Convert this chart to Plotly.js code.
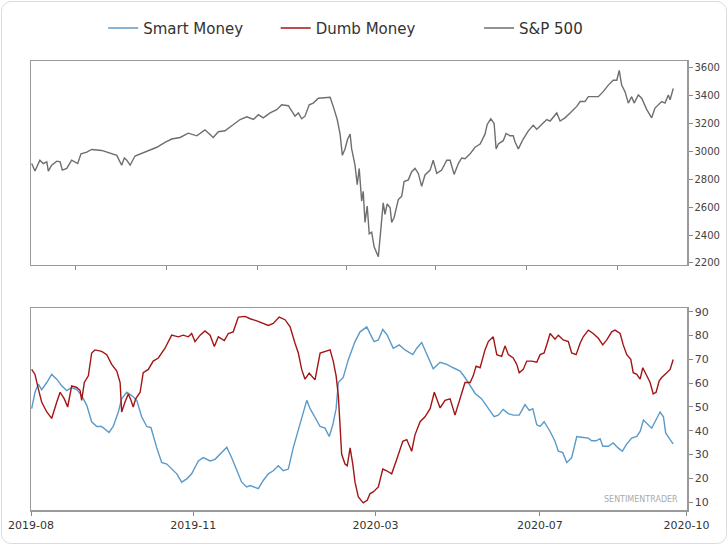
<!DOCTYPE html>
<html>
<head>
<meta charset="utf-8">
<script src="https://cdn.plot.ly/plotly-3.0.1.min.js"></script>
<style>
html,body{margin:0;padding:0;background:#fff;}
#wrap{position:relative;width:728px;height:545px;}
#chart{width:728px;height:545px;}
#card{position:absolute;left:1px;top:1px;width:724px;height:541px;border:1px solid #dcdcdc;border-radius:10px;pointer-events:none;}
</style>
</head>
<body>
<div id="wrap"><div id="chart"></div><div id="card"></div></div>
<script>
// x = trading-day index from 2019-08 (0) to 2020-10 (~295)
const spX = [0.3,1.8,4.0,5.5,7.1,7.8,9.3,11.6,13.1,14.1,16.1,18.3,21.0,22.5,25.1,27.3,31.8,35.6,38.6,40.8,42.0,43.1,44.6,46.8,49.1,52.8,56.6,60.3,63.3,67.1,70.8,74.6,78.3,82.0,84.3,87.3,91.0,94.1,97.1,100.1,102.3,104.5,107.6,110.6,112.8,115.8,118.8,120.3,121.8,123.3,125.2,127.0,129.3,132.3,134.6,136.0,137.8,139.1,140.1,141.3,142.5,143.6,144.3,145.8,146.8,147.7,148.8,149.5,150.3,151.3,152.2,153.3,154.4,156.3,157.8,158.5,159.3,160.3,161.6,162.3,163.4,165.3,166.8,167.9,169.8,171.3,172.8,174.3,175.8,177.3,179.6,181.0,182.6,184.8,187.1,188.6,190.4,192.3,193.8,195.3,197.6,199.8,202.1,204.3,205.3,206.9,208.4,209.3,210.3,212.5,213.8,215.6,217.0,217.8,219.3,221.5,223.8,226.0,227.6,229.8,232.1,233.6,236.6,238.1,240.3,242.6,245.6,247.1,249.3,250.8,253.8,255.3,257.5,259.8,262.0,263.6,264.7,265.8,267.3,268.8,270.3,271.4,273.3,274.8,277.1,278.6,279.3,280.8,282.3,283.8,285.3,286.8,287.6,289.0];
const spVal = [2913,2859,2937,2913,2925,2859,2901,2930,2925,2866,2878,2937,2913,2983,2995,3014,3007,2988,2972,2901,2953,2937,2901,2967,2983,3007,3030,3065,3089,3100,3131,3112,3155,3100,3141,3148,3194,3229,3248,3229,3264,3241,3276,3300,3335,3328,3253,3276,3234,3253,3335,3347,3382,3389,3389,3323,3229,3124,2972,3018,3089,3124,3018,2901,2761,2878,2643,2714,2491,2608,2409,2420,2315,2244,2479,2631,2549,2624,2596,2491,2526,2655,2678,2784,2796,2854,2878,2842,2749,2831,2866,2937,2842,2866,2937,2937,2835,2913,2953,2948,2983,3030,3053,3124,3194,3234,3201,3018,3053,3077,3129,3112,3112,3070,3018,3089,3148,3187,3159,3194,3229,3218,3276,3218,3241,3276,3323,3358,3358,3393,3393,3393,3429,3476,3511,3511,3581,3476,3429,3347,3393,3347,3405,3382,3300,3264,3241,3311,3335,3358,3347,3405,3370,3452];

const smartX = [0.3,1.8,3.3,4.8,7.1,9.3,11.6,13.8,16.1,18.3,20.6,22.8,25.1,27.3,29.6,31.8,35.1,37.0,39.3,40.8,43.1,45.3,47.6,49.8,52.1,54.0,56.6,58.8,61.1,63.3,65.6,67.8,70.1,72.3,75.3,77.5,80.6,82.8,85.1,88.1,90.3,92.6,94.8,97.1,98.6,102.3,104.5,106.8,109.0,111.3,113.5,115.8,118.0,120.3,122.5,124.1,125.6,127.8,130.1,132.3,134.2,135.8,137.3,138.3,140.5,142.8,145.8,148.1,151.1,152.9,154.4,156.3,158.3,160.3,163.0,165.7,168.3,171.8,173.6,175.8,178.1,181.0,184.1,187.1,190.0,193.1,195.3,197.6,199.8,202.8,205.8,208.4,210.3,212.5,214.8,217.0,219.7,222.3,224.2,225.8,227.6,229.1,230.9,233.6,235.8,237.3,239.3,241.1,243.3,245.6,248.5,250.8,252.3,254.3,256.1,257.3,259.8,262.0,264.2,266.1,267.9,270.3,272.6,274.1,275.6,277.1,279.3,280.8,283.1,284.6,285.6,287.6,289.0];
const smartVal = [49.3,56.2,59.6,57.3,60.3,63.7,61.7,58.9,56.9,58.2,57.3,54.8,50.7,43.8,41.8,41.8,39.3,41.8,47.9,53.4,56.2,54.8,52.8,45.9,41.8,41.3,32.8,26.7,26.0,23.9,21.9,18.4,19.8,21.9,27.3,28.7,27.3,28.0,30.1,33.1,28.7,23.2,18.4,16.4,17.0,15.7,19.1,21.9,23.2,25.3,23.2,23.9,32.8,40.4,47.9,52.8,49.3,45.9,41.8,41.1,37.6,42.5,49.3,60.3,62.4,69.9,77.5,81.6,83.7,80.2,77.5,78.2,82.6,80.2,74.7,76.1,74.0,72.0,74.7,77.1,72.0,66.1,68.8,67.9,66.5,65.1,62.4,59.3,55.8,53.4,49.3,45.9,46.6,49.0,47.2,46.6,46.6,51.0,48.6,49.3,42.5,41.8,43.8,39.7,35.6,31.4,30.8,26.7,28.7,37.6,37.2,36.9,35.8,35.8,36.7,33.5,33.5,34.9,32.8,31.4,34.2,36.9,37.6,39.7,44.5,43.1,41.1,43.8,47.9,45.9,39.1,36.3,34.5];

const dumbX = [0.3,1.8,3.3,4.8,7.1,9.3,11.6,13.1,15.0,16.5,18.3,20.6,22.1,22.8,24.0,25.8,27.3,28.8,31.8,34.1,36.3,38.6,40.1,40.8,42.3,43.8,45.0,46.0,47.1,49.1,50.5,52.8,55.0,57.3,60.3,63.3,66.3,68.5,70.8,72.3,73.8,76.1,78.3,80.6,82.5,84.3,87.0,88.8,91.0,93.3,96.3,98.6,101.6,104.5,106.8,109.0,111.7,114.3,116.6,118.8,120.3,121.8,123.3,125.2,127.8,130.1,132.3,134.6,136.0,137.3,138.3,139.1,139.8,141.3,142.3,143.6,144.8,145.8,147.3,149.5,151.3,152.6,154.0,156.3,158.3,160.1,162.3,164.6,167.3,169.1,171.3,172.8,175.1,177.3,179.6,181.5,184.1,186.3,188.6,190.8,193.1,195.3,197.6,199.0,200.3,202.1,204.3,205.8,208.0,209.6,211.8,213.3,214.8,217.0,218.6,219.7,221.5,223.1,225.3,227.6,229.1,230.9,232.3,233.6,235.8,237.3,239.5,241.8,243.3,245.3,247.1,248.5,250.8,253.0,255.3,257.3,259.1,261.3,262.8,265.1,266.5,268.1,269.9,271.0,272.6,274.1,275.3,277.1,278.6,280.0,281.3,282.7,283.8,286.1,287.6,289.0];
const dumbVal = [65.8,63.7,57.6,52.1,47.9,45.2,52.1,56.2,53.4,50.0,58.9,58.2,56.9,52.8,60.3,63.1,72.7,74.0,73.4,72.0,67.9,65.1,60.3,47.9,52.1,55.5,52.8,50.0,53.4,56.2,64.4,65.8,69.3,70.6,74.7,80.2,79.5,80.2,79.5,80.9,77.5,80.2,82.0,80.2,75.4,79.5,77.9,80.9,81.6,87.8,88.1,87.1,86.2,85.1,84.3,85.1,87.8,86.7,83.7,76.8,72.7,65.8,61.7,64.2,61.4,72.7,73.4,74.0,69.3,63.1,54.8,42.5,30.1,26.0,25.3,32.8,26.0,18.4,12.2,9.7,10.8,13.6,14.3,16.4,23.9,23.2,21.9,28.0,35.6,36.3,31.4,38.3,43.8,45.9,49.3,56.2,49.6,52.8,53.4,46.6,54.1,60.3,60.3,63.1,67.2,66.5,74.0,77.5,79.5,72.0,71.3,75.7,72.0,70.6,67.9,64.4,65.8,69.3,69.3,68.8,72.0,72.7,76.8,80.9,78.5,80.2,78.2,77.5,72.7,72.0,76.8,79.5,82.3,80.9,78.9,76.1,78.2,81.6,82.3,80.9,76.1,72.0,70.0,64.4,63.7,61.7,66.5,63.1,60.3,55.5,56.2,61.0,62.4,64.4,65.8,70.0];

const seriesNames = ['Smart Money', 'Dumb Money', 'S&P 500'];
const xTickVals = [0, 73, 155, 229, 295];
const xTickText = ['2019-08', '2019-11', '2020-03', '2020-07', '2020-10'];
const topTickVals = [20, 61, 102, 142, 182, 223, 264];
const spTicks = [2200, 2400, 2600, 2800, 3000, 3200, 3400, 3600];
const sentTicks = [10, 20, 30, 40, 50, 60, 70, 80, 90];

const FONT = 'DejaVu Sans, Liberation Sans, sans-serif';
const frame = {showline: true, linecolor: '#9a9a9a', linewidth: 1.5, mirror: true,
  showgrid: false, zeroline: false, ticks: 'outside', ticklen: 4, tickcolor: '#888', tickwidth: 1};

const traces = [
  {x: smartX, y: smartVal, xaxis: 'x2', yaxis: 'y2', mode: 'lines', name: seriesNames[0],
   line: {color: '#5b9ac8', width: 1.4}, legend: 'legend'},
  {x: dumbX, y: dumbVal, xaxis: 'x2', yaxis: 'y2', mode: 'lines', name: seriesNames[1],
   line: {color: '#a31515', width: 1.4}, legend: 'legend2'},
  {x: spX, y: spVal, xaxis: 'x', yaxis: 'y', mode: 'lines', name: seriesNames[2],
   line: {color: '#6e6e6e', width: 1.4}, legend: 'legend3'}
];

const legBase = {orientation: 'h', xanchor: 'left', yanchor: 'middle', y: 1.073,
  bgcolor: 'rgba(0,0,0,0)', font: {family: FONT, size: 15, color: '#333'}};

const layout = {
  width: 728, height: 545,
  margin: {l: 31, r: 41, t: 52, b: 35},
  paper_bgcolor: '#fff', plot_bgcolor: '#fff',
  font: {family: FONT, color: '#444'},
  showlegend: true,
  legend: Object.assign({}, legBase, {x: 0.11}),
  legend2: Object.assign({}, legBase, {x: 0.373}),
  legend3: Object.assign({}, legBase, {x: 0.683}),
  xaxis: Object.assign({}, frame, {domain: [0, 1], anchor: 'y', range: [0, 295.2],
    tickvals: topTickVals, showticklabels: false}),
  yaxis: Object.assign({}, frame, {domain: [0.546, 1], anchor: 'x', side: 'right',
    range: [2186, 3649], tickvals: spTicks, tickfont: {size: 10, color: '#444'}}),
  xaxis2: Object.assign({}, frame, {domain: [0, 1], anchor: 'y2', range: [0, 295.2],
    tickvals: xTickVals, ticktext: xTickText, tickfont: {size: 11, color: '#333'}}),
  yaxis2: Object.assign({}, frame, {domain: [0, 0.4498], anchor: 'x2', side: 'right',
    range: [6.7, 91.6], tickvals: sentTicks, tickfont: {size: 11, color: '#444'}}),
  annotations: [{text: 'SENTIMENTRADER', xref: 'x2', yref: 'y2', x: 292, y: 8.2,
    xanchor: 'right', yanchor: 'bottom', showarrow: false,
    font: {family: FONT, size: 8, color: '#aaa'}}]
};

Plotly.newPlot('chart', traces, layout, {displayModeBar: false, staticPlot: true});
</script>
</body>
</html>
